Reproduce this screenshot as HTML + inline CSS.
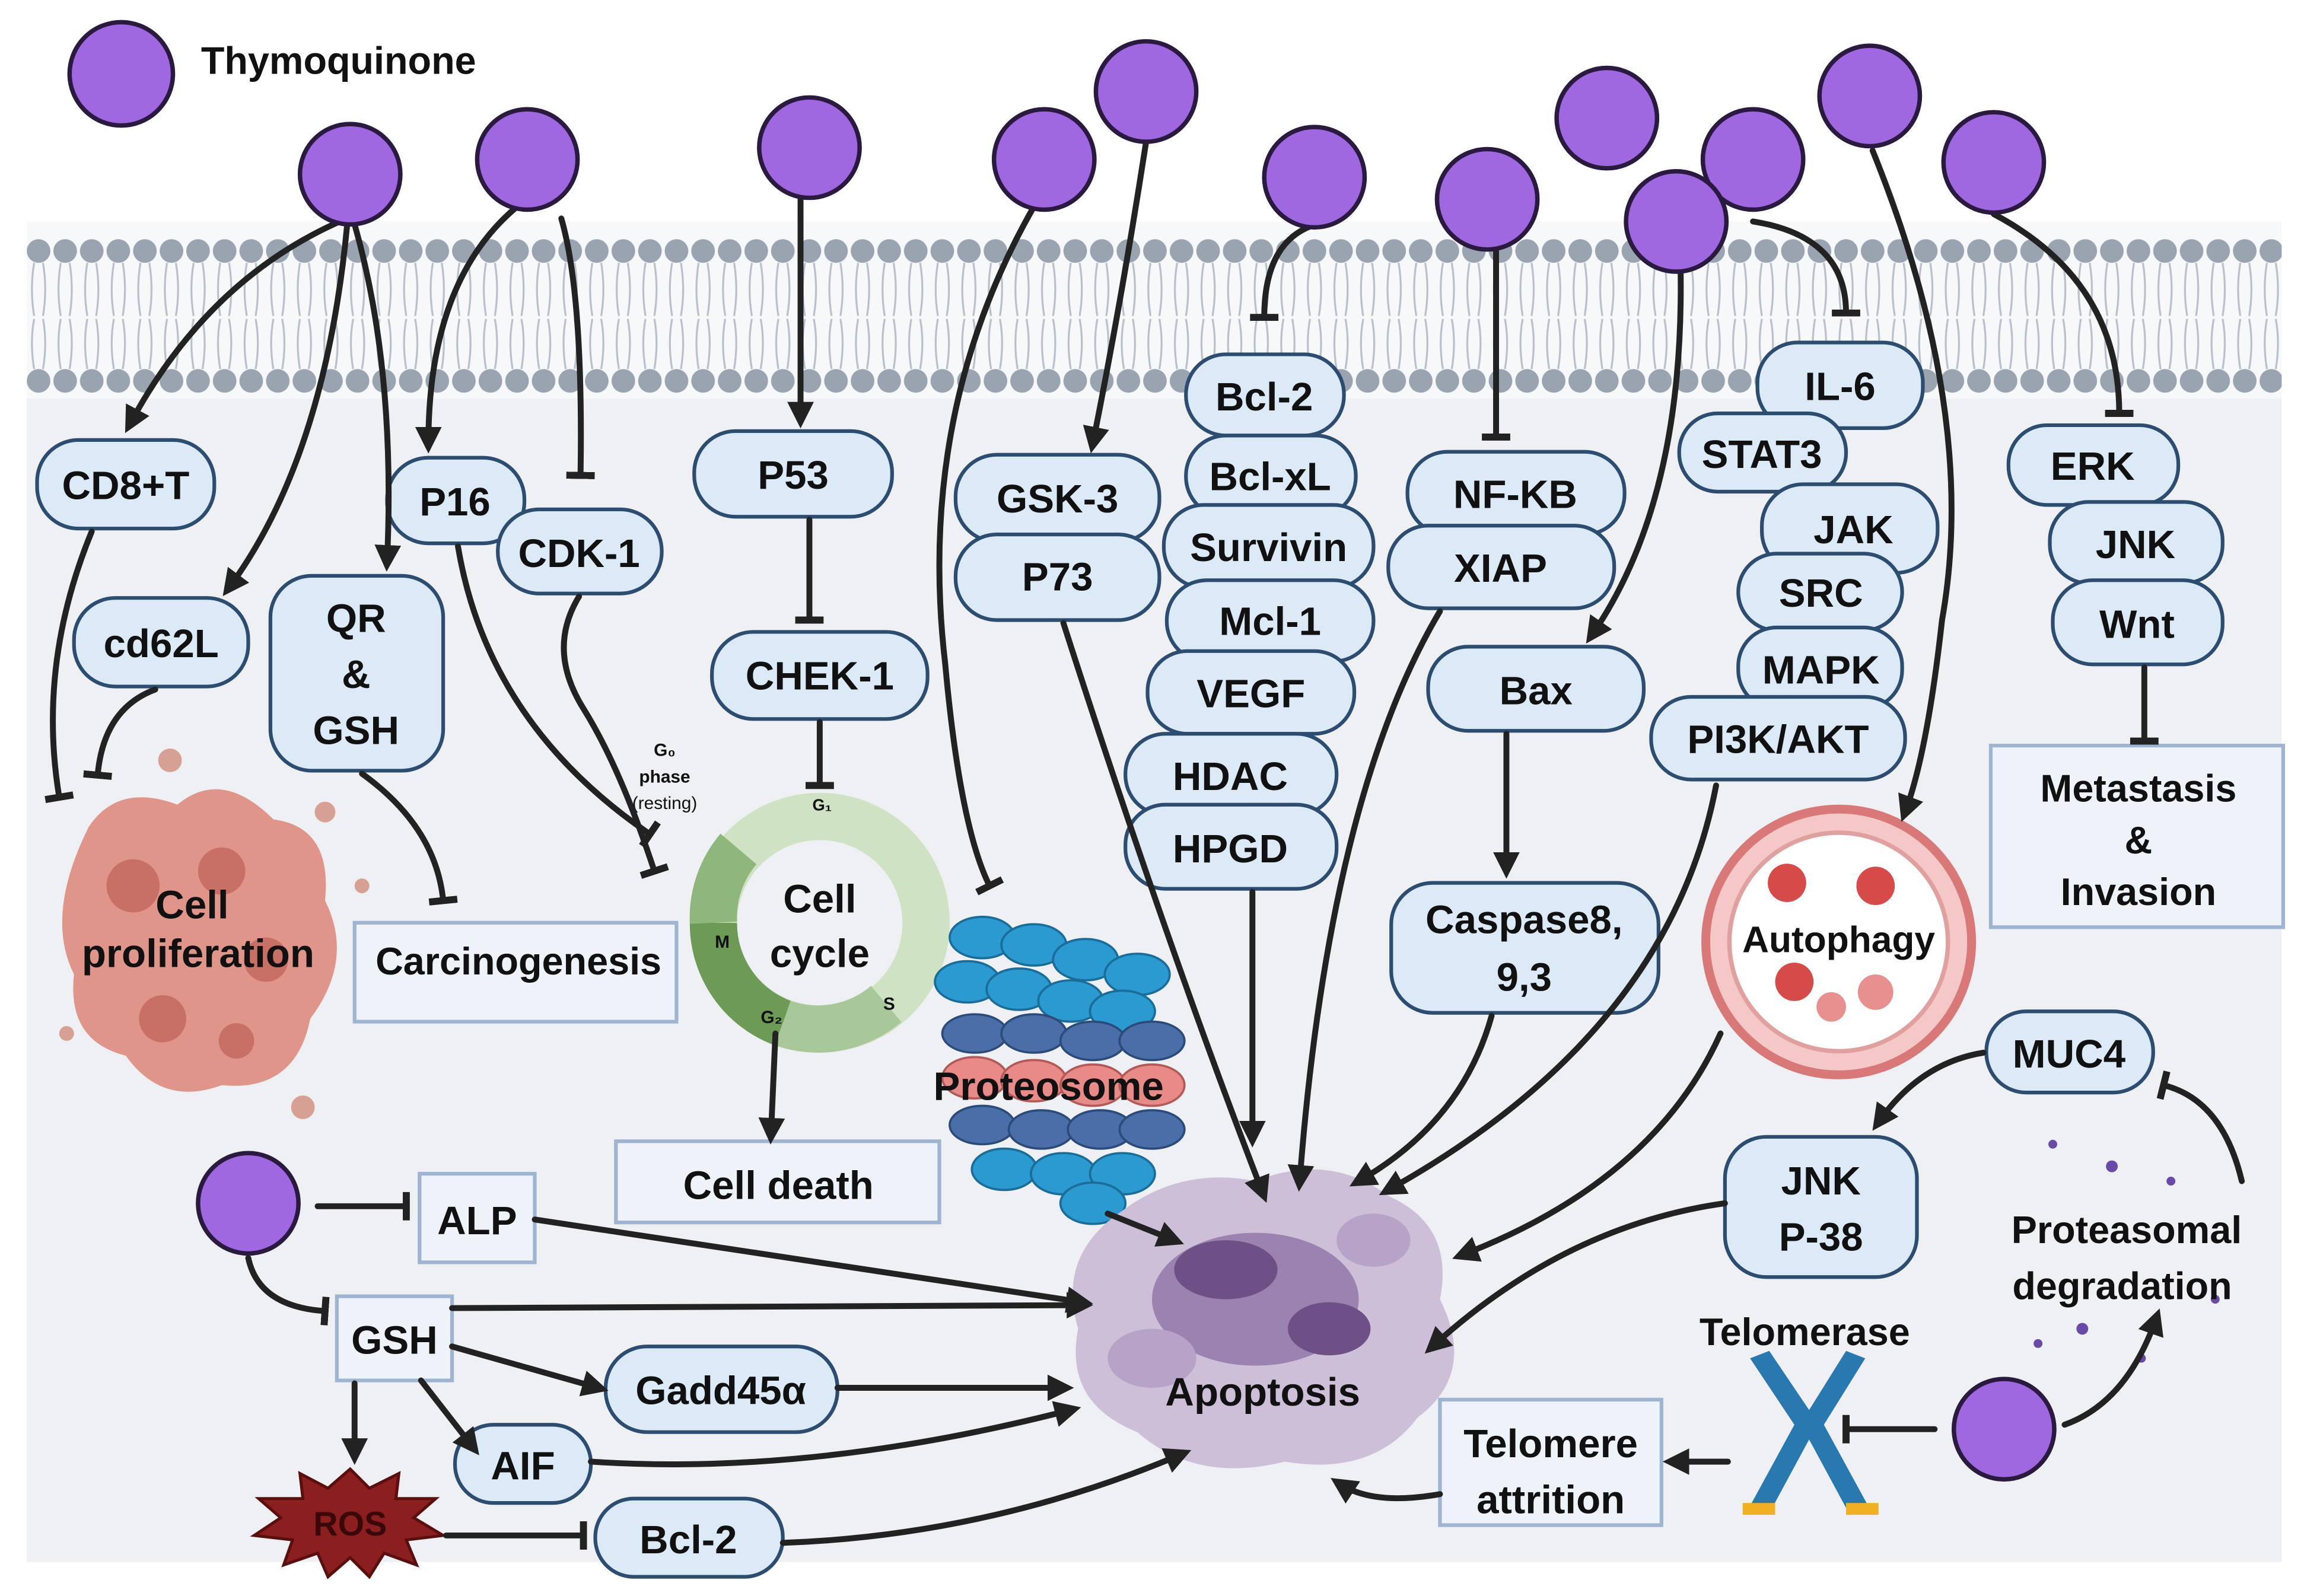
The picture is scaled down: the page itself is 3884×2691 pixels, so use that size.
<!DOCTYPE html>
<html><head><meta charset="utf-8"><style>
html,body{margin:0;padding:0;background:#fff;}
svg{display:block;}
text{font-family:"Liberation Sans",Arial,sans-serif;font-weight:bold;fill:#111;}
</style></head><body>
<svg width="3884" height="2691" viewBox="0 0 1560 1081" xmlns="http://www.w3.org/2000/svg">
<defs>
<marker id="a" viewBox="0 0 10 10" refX="6" refY="5" markerWidth="4.5" markerHeight="4.5" orient="auto" markerUnits="strokeWidth"><path d="M0,0 L10,5 L0,10 z" fill="#222"/></marker>
<marker id="t" viewBox="0 0 4 16" refX="2" refY="8" markerWidth="1.2" markerHeight="6" orient="auto" markerUnits="strokeWidth"><rect x="0" y="0" width="4" height="16" fill="#222"/></marker>
<pattern id="mem" x="17" y="160" width="18" height="110" patternUnits="userSpaceOnUse">
<path d="M6 18 q-3 18 0 36 M12 18 q3 18 0 36 M6 90 q-3 -18 0 -34 M12 90 q3 -18 0 -34" stroke="#b8c0ca" stroke-width="1.3" fill="none"/>
<circle cx="9" cy="10" r="8" fill="#9aa4b0"/>
<circle cx="9" cy="98" r="8" fill="#9aa4b0"/>
</pattern>
</defs>
<rect x="18" y="150" width="1527" height="908" fill="#eef0f3"/>
<rect x="18" y="150" width="1527" height="120" fill="#f7f8fa"/>
<rect x="18" y="160" width="1527" height="110" fill="url(#mem)"/>
<!-- blobs -->
<g>
<path d="M60,560 Q80,530 120,545 Q150,520 185,555 Q225,560 220,610 Q240,650 210,690 Q200,740 150,735 Q110,750 85,715 Q45,705 50,660 Q30,620 60,560z" fill="#e0958a"/>
<circle cx="90" cy="600" r="18" fill="#c86f66"/><circle cx="150" cy="590" r="16" fill="#c86f66"/><circle cx="180" cy="650" r="15" fill="#c86f66"/><circle cx="110" cy="690" r="16" fill="#c86f66"/><circle cx="160" cy="705" r="12" fill="#c86f66"/>
<circle cx="115" cy="515" r="8" fill="#d7a095"/><circle cx="220" cy="550" r="7" fill="#d7a095"/><circle cx="205" cy="750" r="8" fill="#d7a095"/><circle cx="45" cy="700" r="5" fill="#d7a095"/><circle cx="245" cy="600" r="5" fill="#d7a095"/>
</g>
<text x="130" y="622" font-size="27" text-anchor="middle">Cell</text>
<text x="134" y="655" font-size="27" text-anchor="middle">proliferation</text>
<!-- cell cycle -->
<circle cx="555" cy="625" r="72" fill="none" stroke="#cfe3c4" stroke-width="32"/>
<path d="M483,625 A72,72 0 0 0 530,693" fill="none" stroke="#6e9a58" stroke-width="32"/>
<path d="M530,693 A72,72 0 0 0 600,680" fill="none" stroke="#a8c89a" stroke-width="32"/>
<path d="M500,575 A72,72 0 0 0 483,625" fill="none" stroke="#8fb77c" stroke-width="32"/>
<text x="555" y="618" font-size="27" text-anchor="middle">Cell</text>
<text x="555" y="655" font-size="27" text-anchor="middle">cycle</text>
<text x="484" y="642" font-size="12">M</text><text x="515" y="693" font-size="12">G₂</text><text x="598" y="684" font-size="12">S</text><text x="550" y="549" font-size="11">G₁</text>
<text x="450" y="512" font-size="12" text-anchor="middle">G₀</text><text x="450" y="530" font-size="12" text-anchor="middle">phase</text>
<text x="450" y="548" font-size="12" text-anchor="middle" style="font-weight:normal">(resting)</text>
<!-- proteosome -->
<g fill="#2a9ad0" stroke="#1b6d99" stroke-width="1.5">
<ellipse cx="665" cy="635" rx="22" ry="14"/><ellipse cx="700" cy="640" rx="22" ry="14"/><ellipse cx="735" cy="650" rx="22" ry="14"/><ellipse cx="770" cy="660" rx="22" ry="14"/>
<ellipse cx="655" cy="665" rx="22" ry="14"/><ellipse cx="690" cy="670" rx="22" ry="14"/><ellipse cx="725" cy="678" rx="22" ry="14"/><ellipse cx="760" cy="685" rx="22" ry="14"/>
</g>
<g fill="#4a6fa8" stroke="#2c4b7a" stroke-width="1.5">
<ellipse cx="660" cy="700" rx="22" ry="13"/><ellipse cx="700" cy="700" rx="22" ry="13"/><ellipse cx="740" cy="705" rx="22" ry="13"/><ellipse cx="780" cy="705" rx="22" ry="13"/>
</g>
<g fill="#e88a88" stroke="#b35a58" stroke-width="1.5">
<ellipse cx="660" cy="730" rx="22" ry="14"/><ellipse cx="700" cy="732" rx="22" ry="14"/><ellipse cx="740" cy="735" rx="22" ry="14"/><ellipse cx="780" cy="735" rx="22" ry="14"/>
</g>
<g fill="#4a6fa8" stroke="#2c4b7a" stroke-width="1.5">
<ellipse cx="665" cy="762" rx="22" ry="13"/><ellipse cx="705" cy="765" rx="22" ry="13"/><ellipse cx="745" cy="765" rx="22" ry="13"/><ellipse cx="780" cy="765" rx="22" ry="13"/>
</g>
<g fill="#2a9ad0" stroke="#1b6d99" stroke-width="1.5">
<ellipse cx="680" cy="792" rx="22" ry="14"/><ellipse cx="720" cy="795" rx="22" ry="14"/><ellipse cx="760" cy="795" rx="22" ry="14"/><ellipse cx="740" cy="815" rx="22" ry="14"/>
</g>
<text x="710" y="745" font-size="27" text-anchor="middle">Proteosome</text>
<!-- apoptosis -->
<path d="M760,820 Q800,790 850,800 Q900,780 940,810 Q985,830 975,880 Q1000,930 960,960 Q930,1000 870,990 Q810,1005 770,970 Q720,950 730,900 Q715,850 760,820z" fill="#cdbfd8"/>
<ellipse cx="850" cy="880" rx="70" ry="45" fill="#9b82b0"/><ellipse cx="830" cy="860" rx="35" ry="20" fill="#6e5087"/><ellipse cx="900" cy="900" rx="28" ry="18" fill="#6e5087"/>
<ellipse cx="780" cy="920" rx="30" ry="20" fill="#b7a3c8"/><ellipse cx="930" cy="840" rx="25" ry="18" fill="#b7a3c8"/>
<text x="855" y="952" font-size="27" text-anchor="middle">Apoptosis</text>
<!-- autophagy -->
<circle cx="1245" cy="638" r="90" fill="#f5c8c8" stroke="#d97878" stroke-width="6"/>
<circle cx="1245" cy="638" r="74" fill="#fff" stroke="#e0a0a0" stroke-width="3"/>
<g fill="#d64a4a"><circle cx="1210" cy="598" r="13"/><circle cx="1270" cy="600" r="13"/><circle cx="1215" cy="665" r="13"/><circle cx="1270" cy="672" r="12" fill="#e89090"/><circle cx="1240" cy="682" r="10" fill="#e89090"/></g>
<text x="1245" y="645" font-size="25" text-anchor="middle">Autophagy</text>
<!-- telomerase X -->
<g fill="#2a78b0"><path d="M1185,920 L1215,965 L1185,1020 L1198,1025 L1225,975 L1252,1025 L1265,1020 L1235,965 L1263,920 L1250,915 L1225,955 L1198,915z"/></g>
<rect x="1180" y="1018" width="22" height="8" fill="#f0b020"/><rect x="1250" y="1018" width="22" height="8" fill="#f0b020"/>
<text x="1222" y="911" font-size="26" text-anchor="middle">Telomerase</text>
<!-- proteasomal degradation dots -->
<g fill="#6a4aa8"><circle cx="1390" cy="775" r="3"/><circle cx="1430" cy="790" r="4"/><circle cx="1470" cy="800" r="3"/><circle cx="1410" cy="900" r="4"/><circle cx="1450" cy="920" r="3"/><circle cx="1500" cy="880" r="3"/><circle cx="1380" cy="910" r="3"/></g>
<text x="1440" y="842" font-size="26" text-anchor="middle">Proteasomal</text>
<text x="1437" y="880" font-size="26" text-anchor="middle">degradation</text>
<!-- ROS -->
<polygon points="237,995 250,1008 270,998 268,1015 295,1015 280,1028 300,1040 275,1043 282,1060 260,1052 250,1068 237,1055 222,1068 215,1052 192,1060 198,1043 172,1040 190,1028 175,1015 205,1015 203,998 222,1008" fill="#8b1e1e" stroke="#5a0f0f" stroke-width="2"/>
<text x="237" y="1040" font-size="23" text-anchor="middle" style="fill:#3a0808">ROS</text>
<!-- rect boxes -->
<g fill="#eef3fa" stroke="#9fb4d0" stroke-width="2.5">
<rect x="240" y="625" width="218" height="67"/>
<rect x="417" y="773" width="219" height="55"/>
<rect x="284" y="795" width="78" height="60"/>
<rect x="228" y="878" width="78" height="57"/>
<rect x="975" y="948" width="150" height="85"/>
<rect x="1348" y="505" width="198" height="123"/>
</g>
<text x="351" y="660" font-size="26" text-anchor="middle">Carcinogenesis</text>
<text x="527" y="812" font-size="27" text-anchor="middle">Cell death</text>
<text x="323" y="836" font-size="27" text-anchor="middle">ALP</text>
<text x="267" y="917" font-size="27" text-anchor="middle">GSH</text>
<text x="1050" y="987" font-size="27" text-anchor="middle">Telomere</text>
<text x="1050" y="1025" font-size="27" text-anchor="middle">attrition</text>
<text x="1448" y="543" font-size="26" text-anchor="middle">Metastasis</text>
<text x="1448" y="578" font-size="26" text-anchor="middle">&amp;</text>
<text x="1448" y="613" font-size="26" text-anchor="middle">Invasion</text>
<!-- pills -->
<g fill="#dce9f7" stroke="#2d4d70" stroke-width="2.5">
<rect x="25" y="298" width="120" height="60" rx="28"/>
<rect x="50" y="405" width="118" height="60" rx="28"/>
<rect x="183" y="390" width="117" height="132" rx="28"/>
<rect x="262" y="310" width="93" height="58" rx="28"/>
<rect x="337" y="345" width="111" height="57" rx="28"/>
<rect x="470" y="292" width="134" height="58" rx="28"/>
<rect x="482" y="428" width="146" height="59" rx="28"/>
<rect x="647" y="308" width="138" height="59" rx="28"/>
<rect x="647" y="362" width="138" height="58" rx="28"/>
<rect x="803" y="240" width="107" height="55" rx="27"/>
<rect x="803" y="295" width="115" height="55" rx="27"/>
<rect x="788" y="342" width="142" height="56" rx="27"/>
<rect x="790" y="393" width="140" height="55" rx="27"/>
<rect x="777" y="441" width="140" height="56" rx="27"/>
<rect x="762" y="497" width="143" height="55" rx="27"/>
<rect x="762" y="545" width="143" height="57" rx="27"/>
<rect x="953" y="306" width="147" height="56" rx="27"/>
<rect x="940" y="356" width="153" height="56" rx="27"/>
<rect x="967" y="438" width="146" height="57" rx="27"/>
<rect x="942" y="598" width="181" height="88" rx="28"/>
<rect x="1190" y="232" width="112" height="58" rx="27"/>
<rect x="1137" y="280" width="113" height="53" rx="26"/>
<rect x="1193" y="328" width="119" height="60" rx="28"/>
<rect x="1177" y="375" width="111" height="52" rx="26"/>
<rect x="1177" y="425" width="111" height="55" rx="26"/>
<rect x="1118" y="472" width="172" height="56" rx="27"/>
<rect x="1360" y="288" width="115" height="54" rx="26"/>
<rect x="1388" y="340" width="117" height="55" rx="26"/>
<rect x="1390" y="393" width="115" height="57" rx="27"/>
<rect x="410" y="912" width="157" height="58" rx="28"/>
<rect x="308" y="965" width="92" height="53" rx="26"/>
<rect x="403" y="1015" width="127" height="53" rx="26"/>
<rect x="1168" y="770" width="130" height="95" rx="28"/>
<rect x="1345" y="685" width="113" height="55" rx="27"/>
</g>
<g font-size="27" text-anchor="middle">
<text x="85" y="338">CD8+T</text>
<text x="109" y="445">cd62L</text>
<text x="241" y="428">QR</text><text x="241" y="466">&amp;</text><text x="241" y="504">GSH</text>
<text x="308" y="349">P16</text>
<text x="392" y="384">CDK-1</text>
<text x="537" y="331">P53</text>
<text x="555" y="467">CHEK-1</text>
<text x="716" y="347">GSK-3</text>
<text x="716" y="400">P73</text>
<text x="856" y="278">Bcl-2</text>
<text x="860" y="332">Bcl-xL</text>
<text x="859" y="380">Survivin</text>
<text x="860" y="430">Mcl-1</text>
<text x="847" y="479">VEGF</text>
<text x="833" y="535">HDAC</text>
<text x="833" y="584">HPGD</text>
<text x="1026" y="344">NF-KB</text>
<text x="1016" y="394">XIAP</text>
<text x="1040" y="477">Bax</text>
<text x="1032" y="632">Caspase8,</text><text x="1032" y="671">9,3</text>
<text x="1246" y="271">IL-6</text>
<text x="1193" y="317">STAT3</text>
<text x="1255" y="368">JAK</text>
<text x="1233" y="411">SRC</text>
<text x="1233" y="463">MAPK</text>
<text x="1204" y="510">PI3K/AKT</text>
<text x="1417" y="325">ERK</text>
<text x="1446" y="378">JNK</text>
<text x="1447" y="432">Wnt</text>
<text x="488" y="951">Gadd45α</text>
<text x="354" y="1002">AIF</text>
<text x="466" y="1052">Bcl-2</text>
<text x="1233" y="809">JNK</text><text x="1233" y="847">P-38</text>
<text x="1401" y="723">MUC4</text>
</g>
<!-- connectors -->
<g fill="none" stroke="#222" stroke-width="4" stroke-linecap="round">
<path d="M230,150 Q140,190 88,287" marker-end="url(#a)"/>
<path d="M235,152 Q220,310 155,398" marker-end="url(#a)"/>
<path d="M240,152 Q268,250 262,380" marker-end="url(#a)"/>
<path d="M350,140 Q290,190 290,300" marker-end="url(#a)"/>
<path d="M380,148 Q395,200 393,322" marker-end="url(#t)"/>
<path d="M542,135 L542,283" marker-end="url(#a)"/>
<path d="M548,352 L548,420" marker-end="url(#t)"/>
<path d="M555,489 L555,532" marker-end="url(#t)"/>
<path d="M700,140 Q620,280 640,450 Q650,560 670,600" marker-end="url(#t)"/>
<path d="M776,96 Q760,200 740,300" marker-end="url(#a)"/>
<path d="M888,153 Q856,165 856,215" marker-end="url(#t)"/>
<path d="M1013,170 L1013,296" marker-end="url(#t)"/>
<path d="M1138,185 Q1140,340 1078,430" marker-end="url(#a)"/>
<path d="M1187,150 Q1250,160 1250,212" marker-end="url(#t)"/>
<path d="M1268,102 Q1340,280 1315,420 Q1305,510 1290,550" marker-end="url(#a)"/>
<path d="M1350,145 Q1435,190 1435,280" marker-end="url(#t)"/>
<path d="M1452,452 L1452,502" marker-end="url(#t)"/>
<path d="M1020,497 L1020,588" marker-end="url(#a)"/>
<path d="M525,700 L522,768" marker-end="url(#a)"/>
<path d="M62,360 Q25,450 40,540" marker-end="url(#t)"/>
<path d="M105,467 Q70,480 66,525" marker-end="url(#t)"/>
<path d="M245,524 Q295,560 300,610" marker-end="url(#t)"/>
<path d="M310,370 Q330,490 440,565" marker-end="url(#t)"/>
<path d="M392,404 Q370,440 395,480 Q420,520 443,590" marker-end="url(#t)"/>
<path d="M720,422 Q790,640 855,808" marker-end="url(#a)"/>
<path d="M848,604 L848,770" marker-end="url(#a)"/>
<path d="M975,414 Q900,540 880,800" marker-end="url(#a)"/>
<path d="M1010,688 Q990,760 920,800" marker-end="url(#a)"/>
<path d="M1162,532 Q1130,700 940,806" marker-end="url(#a)"/>
<path d="M1165,700 Q1120,800 990,850" marker-end="url(#a)"/>
<path d="M750,822 Q770,830 795,840" marker-end="url(#a)"/>
<path d="M1168,815 Q1060,830 970,912" marker-end="url(#a)"/>
<path d="M975,1012 Q930,1020 907,1005" marker-end="url(#a)"/>
<path d="M362,826 L733,882" marker-end="url(#a)"/>
<path d="M306,886 L733,884" marker-end="url(#a)"/>
<path d="M567,940 L720,940" marker-end="url(#a)"/>
<path d="M400,990 Q550,1000 725,955" marker-end="url(#a)"/>
<path d="M530,1045 Q670,1040 800,985" marker-end="url(#a)"/>
<path d="M215,817 L275,817" marker-end="url(#t)"/>
<path d="M168,852 Q175,885 220,888" marker-end="url(#t)"/>
<path d="M306,912 L405,940" marker-end="url(#a)"/>
<path d="M285,935 L320,980" marker-end="url(#a)"/>
<path d="M240,937 L240,985" marker-end="url(#a)"/>
<path d="M302,1040 L395,1040" marker-end="url(#t)"/>
<path d="M1310,968 L1250,968" marker-end="url(#t)"/>
<path d="M1398,965 Q1440,950 1460,893" marker-end="url(#a)"/>
<path d="M1170,990 L1133,990" marker-end="url(#a)"/>
<path d="M1518,800 Q1505,745 1465,735" marker-end="url(#t)"/>
<path d="M1343,713 Q1300,720 1272,760" marker-end="url(#a)"/>
</g>
<!-- thymoquinone circles -->
<g fill="#a068e0" stroke="#2a1a40" stroke-width="3">
<circle cx="82" cy="50" r="35"/>
<circle cx="237" cy="118" r="34"/><circle cx="357" cy="108" r="34"/><circle cx="548" cy="100" r="34"/>
<circle cx="707" cy="108" r="34"/><circle cx="776" cy="62" r="34"/><circle cx="890" cy="120" r="34"/>
<circle cx="1007" cy="135" r="34"/><circle cx="1088" cy="80" r="34"/><circle cx="1187" cy="108" r="34"/>
<circle cx="1135" cy="150" r="34"/><circle cx="1266" cy="65" r="34"/><circle cx="1350" cy="110" r="34"/>
<circle cx="168" cy="815" r="34"/><circle cx="1357" cy="968" r="34"/>
</g>
<text x="136" y="50" font-size="26">Thymoquinone</text>
</svg>
</body></html>
